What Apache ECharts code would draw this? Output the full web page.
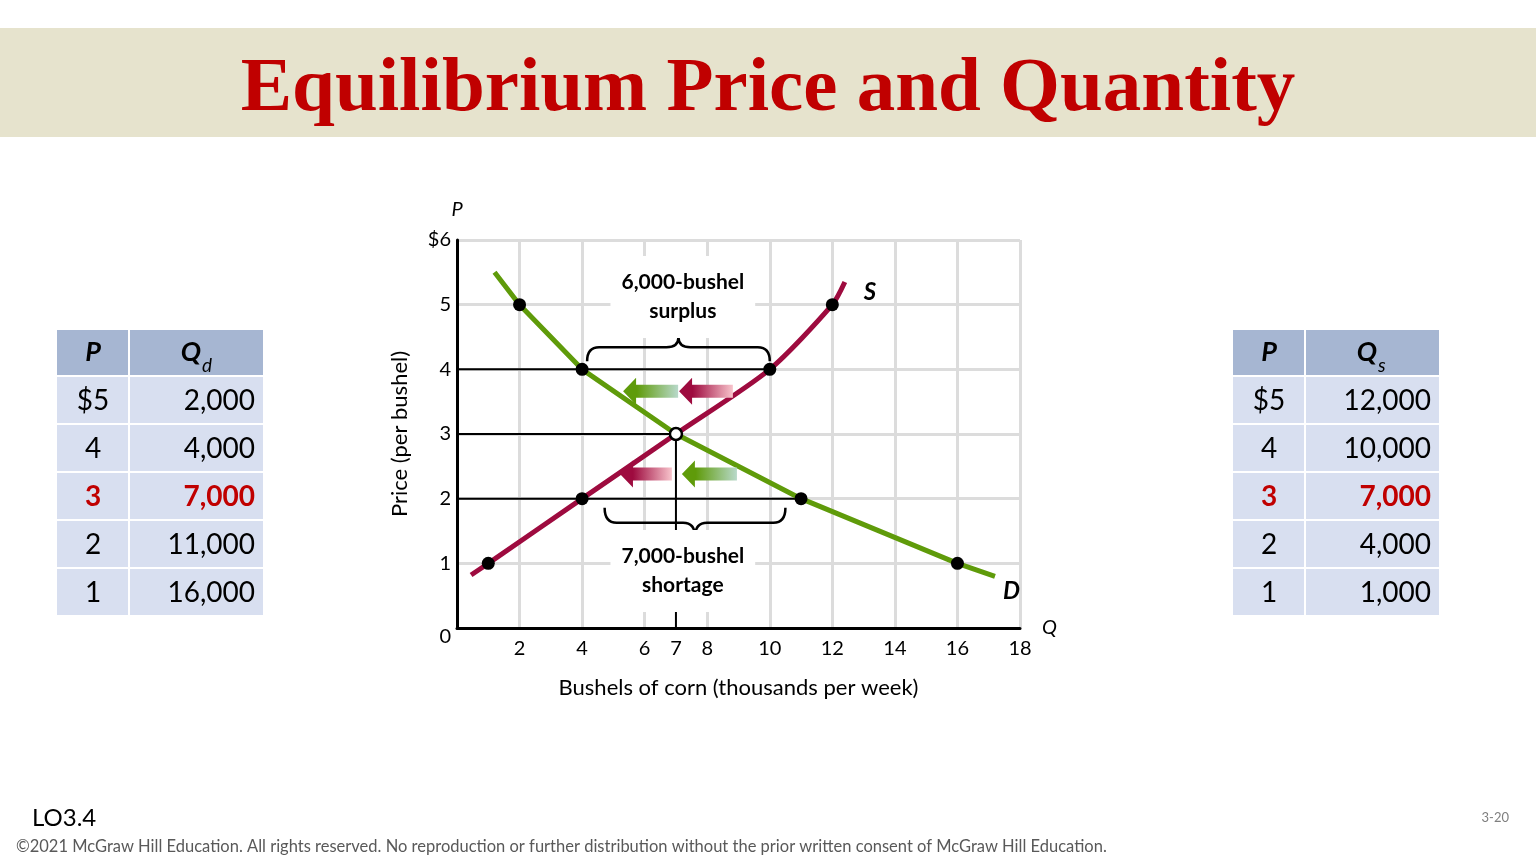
<!DOCTYPE html>
<html>
<head>
<meta charset="utf-8">
<title>Equilibrium Price and Quantity</title>
<script src="https://cdn.jsdelivr.net/npm/echarts@6/dist/echarts.min.js"></script>
<style>
html, body { margin: 0; padding: 0; background: #fff; }
#chart { width: 1536px; height: 864px; }
</style>
</head>
<body>
<div id="chart"></div>
<script>
// market schedule: price ($) and quantities (bushels per week)
var prices = [5, 4, 3, 2, 1];
var qtyDemanded = [2000, 4000, 7000, 11000, 16000];
var qtySupplied = [12000, 10000, 7000, 4000, 1000];

// the drawn curves run a little past the schedule (thousands, $)
var demandStart = [1.2, 5.5], demandEnd = [17.2, 0.8];
var supplyStart = [0.45, 0.82], supplyEnd = [12.4, 5.35];

var xTicks = [2, 4, 6, 7, 8, 10, 12, 14, 16, 18];
var yTicks = [0, 1, 2, 3, 4, 5, 6];

// black guide lines [x1, y1, x2, y2]
var guides = [[0, 4, 10, 4], [0, 3, 7, 3], [0, 2, 11, 2], [7, 3, 7, 0]];
// braces [xFrom, xTo, price, side]  side 1 = above line, -1 = below
var braces = [[4.16, 10.0, 4, 1], [4.72, 10.5, 2, -1]];
// arrows [xTail, xTip, price, kind]  kind 0 = demand, 1 = supply
var arrows = [[7.07, 5.31, 3.66, 0], [8.82, 7.10, 3.66, 1], [6.87, 5.21, 2.38, 1], [8.95, 7.19, 2.38, 0]];
// notes [x, price]
var notes = [[7.22, 5.12], [7.22, 0.88]];
var noteTexts = ['6,000-bushel\nsurplus', '7,000-bushel\nshortage'];

var GREEN = '#5f9b0a', RED = '#9e0b3f';
var FONT = 'Lato';

var eqIdx = qtyDemanded.findIndex(function (q, i) { return q === qtySupplied[i]; });
var demandPts = prices.map(function (p, i) { return [qtyDemanded[i] / 1000, p]; });
var supplyPts = prices.map(function (p, i) { return [qtySupplied[i] / 1000, p]; });
var demandLine = [demandStart].concat(demandPts).concat([demandEnd]);
var supplyLine = [supplyStart].concat(supplyPts.slice().reverse()).concat([supplyEnd]);
var dots = demandPts.filter(function (d, i) { return i !== eqIdx; })
  .concat(supplyPts.filter(function (d, i) { return i !== eqIdx; }));

function fmt(n) { return n.toLocaleString('en-US'); }

// tables are built from the schedule arrays
function makeTable(x0, qty, sub) {
  var out = [];
  var hdr = '#a6b6d2', row = '#d8dff0';
  out.push({ type: 'rect', shape: { x: x0, y: 330, width: 71, height: 45 }, style: { fill: hdr } });
  out.push({ type: 'rect', shape: { x: x0 + 73, y: 330, width: 133, height: 45 }, style: { fill: hdr } });
  out.push({ type: 'text', x: x0 + 36, y: 352, style: { text: 'P', font: 'italic bold 27px ' + FONT, fill: '#000', align: 'center', verticalAlign: 'middle' } });
  out.push({ type: 'text', x: x0 + 134, y: 352, style: { text: 'Q', font: 'italic bold 27px ' + FONT, fill: '#000', align: 'center', verticalAlign: 'middle' } });
  out.push({ type: 'text', x: x0 + 145, y: 366, style: { text: sub, font: 'italic 19px ' + FONT, fill: '#000', align: 'left', verticalAlign: 'middle' } });
  prices.forEach(function (p, i) {
    var y = 377 + i * 48;
    var eq = i === eqIdx;
    var col = eq ? '#c00000' : '#000';
    var w = eq ? 'bold ' : '';
    out.push({ type: 'rect', shape: { x: x0, y: y, width: 71, height: 46 }, style: { fill: row } });
    out.push({ type: 'rect', shape: { x: x0 + 73, y: y, width: 133, height: 46 }, style: { fill: row } });
    out.push({ type: 'text', x: x0 + 36, y: y + 24, style: { text: (i === 0 ? '$' : '') + p, font: w + '28px ' + FONT, fill: col, align: 'center', verticalAlign: 'middle' } });
    out.push({ type: 'text', x: x0 + 198, y: y + 24, style: { text: fmt(qty[i]), font: w + '28px ' + FONT, fill: col, align: 'right', verticalAlign: 'middle' } });
  });
  return out;
}

var chart = echarts.init(document.getElementById('chart'));

var graphics = [
  { type: 'rect', shape: { x: 0, y: 28, width: 1536, height: 109 }, style: { fill: '#e6e3cd' }, z: -1 },
  { type: 'text', x: 768, y: 90, style: { text: 'Equilibrium Price and Quantity', font: 'bold 77px "Liberation Serif"', fill: '#c00000', align: 'center', verticalAlign: 'middle' } },
  { type: 'text', x: 32, y: 818, style: { text: 'LO3.4', font: '24px ' + FONT, fill: '#000', verticalAlign: 'middle' } },
  { type: 'text', x: 1509, y: 818, style: { text: '3-20', font: '13px ' + FONT, fill: '#7f7f7f', align: 'right', verticalAlign: 'middle' } },
  { type: 'text', x: 16, y: 847, style: { text: '\u00a92021 McGraw Hill Education. All rights reserved. No reproduction or further distribution without the prior written consent of McGraw Hill Education.', font: '16.5px ' + FONT, fill: '#595959', verticalAlign: 'middle' } }
].concat(makeTable(57, qtyDemanded, 'd')).concat(makeTable(1233, qtySupplied, 's'));

chart.setOption({
  animation: false,
  textStyle: { fontFamily: FONT },
  graphic: graphics,
  grid: { left: 457, top: 240, width: 563, height: 388 },
  xAxis: [{
    type: 'value', min: 0, max: 18, interval: 2,
    name: 'Bushels of corn (thousands per week)', nameLocation: 'middle', nameGap: 49,
    nameTextStyle: { fontSize: 22, color: '#000', fontFamily: FONT },
    axisLine: { lineStyle: { color: '#000', width: 3 } },
    axisTick: { show: false },
    axisLabel: { customValues: xTicks, fontSize: 20, color: '#000', margin: 11, fontFamily: FONT },
    splitLine: { lineStyle: { color: '#dcdcdc', width: 3 } }
  }, {
    type: 'value', min: 0, max: 18, position: 'bottom',
    name: 'Q', nameLocation: 'end', nameGap: 22,
    nameTextStyle: { fontSize: 20, fontStyle: 'italic', color: '#000', fontFamily: FONT },
    axisLine: { show: false }, axisTick: { show: false }, axisLabel: { show: false }, splitLine: { show: false }
  }],
  yAxis: [{
    type: 'value', min: 0, max: 6, interval: 1,
    name: 'Price (per bushel)', nameLocation: 'middle', nameGap: 46,
    nameTextStyle: { fontSize: 22, color: '#000', fontFamily: FONT },
    axisLine: { show: true, lineStyle: { color: '#000', width: 3 } },
    axisTick: { show: false },
    axisLabel: {
      customValues: yTicks, fontSize: 20, color: '#000', margin: 6, fontFamily: FONT,
      formatter: function (v) { return v === 6 ? '$6' : v === 0 ? '{z|0}' : String(v); },
      rich: { z: { fontSize: 20, padding: [18, 0, 0, 0], color: '#000', fontFamily: FONT } }
    },
    splitLine: { lineStyle: { color: '#dcdcdc', width: 3 } }
  }, {
    type: 'value', min: 0, max: 6, position: 'left',
    name: 'P', nameLocation: 'end', nameGap: 20,
    nameTextStyle: { fontSize: 20, fontStyle: 'italic', color: '#000', fontFamily: FONT },
    axisLine: { show: false }, axisTick: { show: false }, axisLabel: { show: false }, splitLine: { show: false }
  }],
  series: [
    {
      type: 'custom', name: 'guides', z: 3, data: guides,
      renderItem: function (params, api) {
        var g = guides[params.dataIndex];
        var a = api.coord([g[0], g[1]]), b = api.coord([g[2], g[3]]);
        return { type: 'line', shape: { x1: a[0], y1: a[1], x2: b[0], y2: b[1] }, style: { stroke: '#000', lineWidth: 2 } };
      }
    },
    {
      type: 'line', name: 'D', z: 4, data: demandLine, symbol: 'none',
      lineStyle: { color: GREEN, width: 5 }, itemStyle: { color: GREEN },
      endLabel: { show: true, formatter: '{a}', fontSize: 24, fontWeight: 'bold', fontStyle: 'italic', color: '#000', offset: [0, 15], fontFamily: FONT }
    },
    {
      type: 'line', name: 'S', z: 4, data: supplyLine, symbol: 'none', smooth: 0.25,
      lineStyle: { color: RED, width: 5 }, itemStyle: { color: RED },
      endLabel: { show: true, formatter: '{a}', fontSize: 24, fontWeight: 'bold', fontStyle: 'italic', color: '#000', offset: [11, 10], fontFamily: FONT }
    },
    {
      type: 'custom', name: 'arrows', z: 5, data: arrows,
      renderItem: function (params, api) {
        var d = arrows[params.dataIndex];
        var tail = api.coord([d[0], d[2]]), tip = api.coord([d[1], d[2]]);
        var y = tip[1], xt = tip[0], xh = xt + 13, xe = tail[0];
        var deep = d[3] === 0 ? GREEN : RED;
        var pale = d[3] === 0 ? '#b8d9ca' : '#f8c4cc';
        return {
          type: 'polygon',
          shape: { points: [[xt, y], [xh, y - 13.5], [xh, y - 6.5], [xe, y - 6.5], [xe, y + 6.5], [xh, y + 6.5], [xh, y + 13.5]] },
          style: { fill: new echarts.graphic.LinearGradient(0, 0, 1, 0, [{ offset: 0, color: deep }, { offset: 0.25, color: deep }, { offset: 1, color: pale }]) }
        };
      }
    },
    {
      type: 'custom', name: 'braces', z: 5, data: braces,
      renderItem: function (params, api) {
        var b = braces[params.dataIndex];
        var a = api.coord([b[0], b[2]]), c = api.coord([b[1], b[2]]);
        var up = b[3] > 0;
        var base = a[1];
        var y0 = up ? base - 8 : base + 9;
        var y1 = up ? base - 22 : base + 24;
        var y2 = up ? base - 32 : base + 38;
        var xa = a[0], xb = c[0], mid = (xa + xb) / 2, r = 12;
        var p = 'M' + xa + ' ' + y0 + ' Q' + xa + ' ' + y1 + ' ' + (xa + r) + ' ' + y1 +
          ' L' + (mid - r) + ' ' + y1 + ' Q' + mid + ' ' + y1 + ' ' + mid + ' ' + y2 +
          ' Q' + mid + ' ' + y1 + ' ' + (mid + r) + ' ' + y1 +
          ' L' + (xb - r) + ' ' + y1 + ' Q' + xb + ' ' + y1 + ' ' + xb + ' ' + y0;
        return { type: 'path', shape: { pathData: p }, style: { stroke: '#000', lineWidth: 2.5, fill: null } };
      }
    },
    {
      type: 'custom', name: 'notes', z: 6, data: notes,
      renderItem: function (params, api) {
        var n = notes[params.dataIndex];
        var p = api.coord(n);
        return {
          type: 'text', x: p[0], y: p[1],
          style: {
            text: noteTexts[params.dataIndex], font: 'bold 21px ' + FONT, fill: '#000',
            align: 'center', verticalAlign: 'middle', lineHeight: 29,
            backgroundColor: '#fff', padding: [12, 11, 12, 11]
          }
        };
      }
    },
    {
      type: 'scatter', name: 'points', z: 7, data: dots, symbolSize: 13,
      itemStyle: { color: '#000', opacity: 1 }
    },
    {
      type: 'scatter', name: 'equilibrium', z: 8,
      data: [[qtyDemanded[eqIdx] / 1000, prices[eqIdx]]], symbolSize: 12,
      itemStyle: { color: '#fff', borderColor: '#000', borderWidth: 2.5, opacity: 1 }
    }
  ]
});
</script>
</body>
</html>
